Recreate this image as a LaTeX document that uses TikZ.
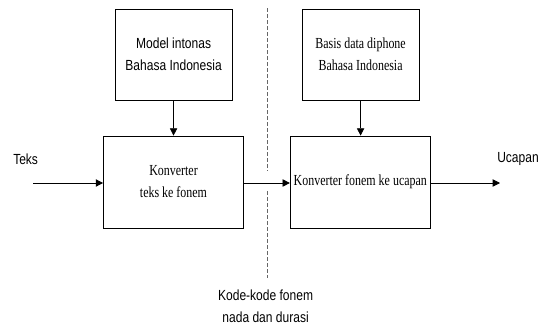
\documentclass[tikz,border=0pt]{standalone}
\usepackage{fontspec}
\newfontfamily\sansfont[FakeStretch=0.82]{Liberation Sans}
\newfontfamily\seriffont[FakeStretch=0.78]{Liberation Serif}
\usetikzlibrary{arrows.meta, positioning, calc}

\begin{document}
\begin{tikzpicture}[
    x=0.75pt, y=-0.75pt,
    box/.style={rectangle, draw, line width=0.6pt, align=center, inner sep=0pt},
    sanslabel/.style={font=\sansfont\fontsize{11}{16.5}\selectfont, align=center},
    seriflabel/.style={font=\seriffont\fontsize{11.5}{16.5}\selectfont, align=center},
    arrow/.style={-{Triangle[length=5.5pt, width=5.5pt]}, line width=0.6pt},
    divider/.style={dashed, gray!80!black, line width=0.6pt, dash pattern=on 3pt off 1.5pt}
]
    \useasboundingbox (0,0) rectangle (544,326);

    \node[box, sanslabel, minimum width=87.75pt, minimum height=68.25pt] (model) at (173.6,54.5) {Model intonas\\Bahasa Indonesia};
    \node[box, seriflabel, minimum width=87.75pt, minimum height=68.25pt] (basis) at (360.6,54.5) {Basis data diphone\\Bahasa Indonesia};
    \node[box, seriflabel, minimum width=105pt, minimum height=69pt] (ktf) at (173.5,182) {Konverter\\teks ke fonem};
    \node[box, seriflabel, minimum width=105pt, minimum height=69pt] (kfu) at (360.3,182) {Konverter fonem ke ucapan};

    \node[sanslabel, anchor=west, inner sep=0pt] (teks) at (13,159) {Teks};
    \node[sanslabel, anchor=west, inner sep=0pt] (ucapan) at (497,159) {Ucapan};
    \node[sanslabel] (kode) at (265.6,306) {Kode-kode fonem\\nada dan durasi};

    \coordinate (in) at (33,183);
    \coordinate (out) at (500,183);
    \coordinate (divtop) at (267,8);
    \coordinate (divmidA) at (267,171);
    \coordinate (divmidB) at (267,191);
    \coordinate (divbot) at (267,278);

    \draw[divider] (divtop) -- (divmidA);
    \draw[divider] (divmidB) -- (divbot);

    \draw[arrow] (model) -- (ktf);
    \draw[arrow] (basis) -- (basis |- kfu.north);
    \draw[arrow] (in) -- (ktf.west |- in);
    \draw[arrow] (ktf.east |- in) -- (kfu.west |- in);
    \draw[arrow] (kfu.east |- in) -- (out);
\end{tikzpicture}
\end{document}
